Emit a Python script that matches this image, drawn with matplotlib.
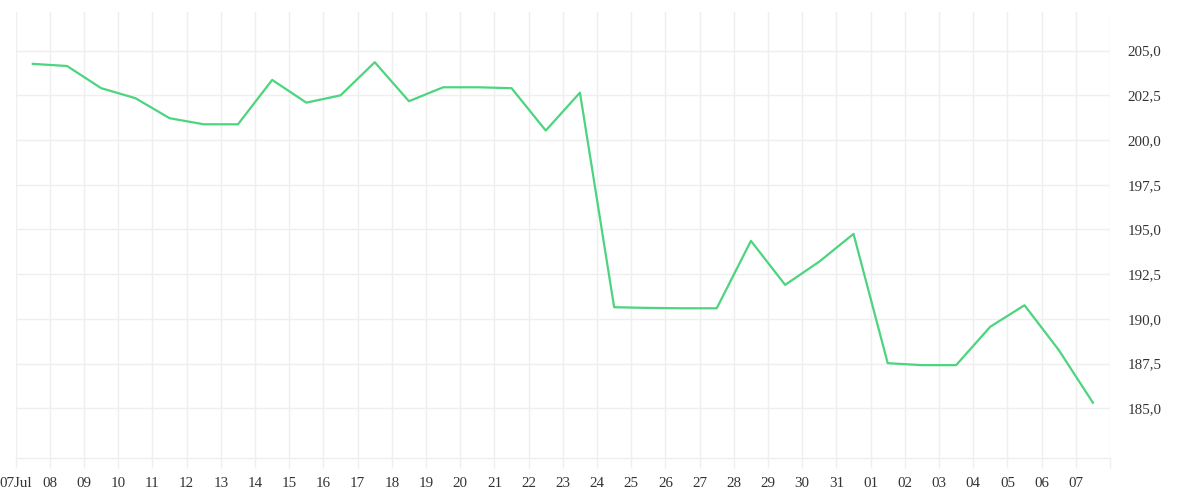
import datetime as dt

import matplotlib
matplotlib.use("Agg")
import matplotlib.pyplot as plt
import matplotlib.dates as mdates

# daily closes, 07 Jul .. 07 Aug
start_day = dt.datetime(2024, 7, 7)
values = [
    204.26, 204.14, 202.90, 202.34, 201.22, 200.88, 200.88, 203.36,
    202.09, 202.50, 204.35, 202.17, 202.95, 202.95, 202.90, 200.53,
    202.65, 190.65, 190.61, 190.59, 190.59, 194.36, 191.90, 193.20,
    194.75, 187.52, 187.41, 187.41, 189.56, 190.76, 188.26, 185.31,
]
y_ticks = [185.0, 187.5, 190.0, 192.5, 195.0, 197.5, 200.0, 202.5, 205.0]

days = [start_day + dt.timedelta(days=i) for i in range(len(values))]
points = [d + dt.timedelta(hours=12) for d in days]
tick_days = days + [days[-1] + dt.timedelta(days=1)]
tick_labels = [d.strftime("%d") for d in days] + [""]
tick_labels[0] = days[0].strftime("%d%b")

grid_color = "#efefef"
text_color = "#333333"
line_color = "#4cd47e"

plt.rcParams["font.family"] = ["Liberation Serif", "DejaVu Serif"]

fig = plt.figure(figsize=(12, 5), dpi=100)
ax = fig.add_axes([15.7 / 1200, (500 - 458.3) / 500, (1110 - 15.7) / 1200, (458.3 - 12) / 500])

ax.plot(points, values, color=line_color, linewidth=1.6)

ax.set_xlim(mdates.date2num(tick_days[0]), mdates.date2num(tick_days[-1]))
ax.set_ylim(182.2, 207.16)

ax.set_xticks(mdates.date2num(tick_days))
ax.set_xticklabels(tick_labels)

ax.set_yticks(y_ticks)
ax.set_yticklabels([f"{v:.1f}".replace(".", ",") for v in y_ticks])

ax.grid(True, color=grid_color, linewidth=1)
ax.set_axisbelow(True)

for name, spine in ax.spines.items():
    spine.set_visible(name == "bottom")
ax.spines["bottom"].set_color(grid_color)
ax.spines["bottom"].set_linewidth(1)

ax.tick_params(axis="x", length=7.2, width=1, color=grid_color, pad=6.5,
               labelsize=10.8, labelcolor=text_color)
ax.tick_params(axis="y", left=False, right=False, labelleft=False, labelright=True,
               length=0, pad=12.5, labelsize=10.8, labelcolor=text_color)
for lbl in ax.get_yticklabels():
    lbl.set_horizontalalignment("left")

fig.savefig("out.png", dpi=100)
